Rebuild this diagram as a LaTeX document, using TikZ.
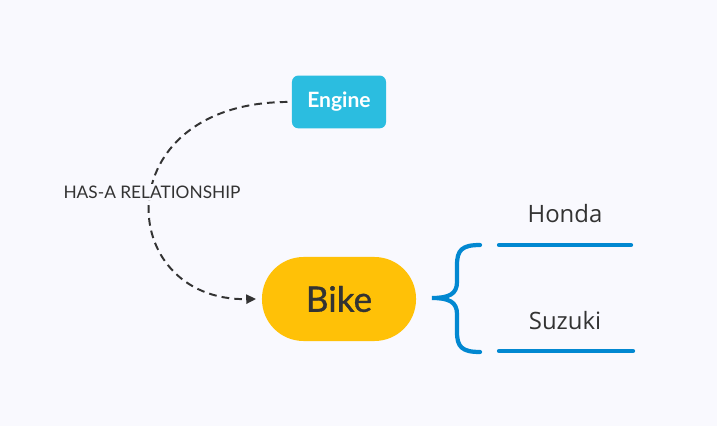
\documentclass[tikz,border=0pt]{standalone}
\usepackage{fontspec}
\setmainfont{Lato}
\newfontfamily\brandfont{Open Sans}
\newfontfamily\wholefont[FakeBold=0.9]{Lato}
\usetikzlibrary{positioning,arrows.meta}

\definecolor{paper}{RGB}{249,249,254}
\definecolor{ink}{RGB}{51,51,51}
\definecolor{enginecyan}{RGB}{43,189,224}
\definecolor{bikeamber}{RGB}{255,193,7}
\definecolor{braceblue}{RGB}{2,136,209}

\tikzset{
  part/.style={fill=enginecyan,text=white,rounded corners=4.5pt,minimum width=2.35cm,minimum height=1.32cm,font=\bfseries\fontsize{15}{18}\selectfont},
  whole/.style={fill=bikeamber,text=ink,rounded corners=1.04cm,minimum width=3.85cm,minimum height=2.1cm,font=\wholefont\fontsize{25}{30}\selectfont},
  brand/.style={text=ink,font=\brandfont\fontsize{17}{20}\selectfont},
  hasa/.style={ink,line width=1.4pt,dash pattern=on 5.5pt off 3.6pt,-{Triangle[length=7pt,width=6.5pt]}},
  branch/.style={braceblue,line width=3pt,line cap=round}
}

\begin{document}
\begin{tikzpicture}[x=0.025cm,y=-0.025cm,on grid]
   \useasboundingbox[fill=paper] (0,0) rectangle (717,426);
   \node[whole] (bike) at (339,299) {Bike};
   \node[part] (engine) [above=4.925cm of bike] {Engine};
   \node[brand] (honda) at (565,214) {Honda};
   \node[brand] (suzuki) [below=2.675cm of honda] {Suzuki};
   % under lines of the two brands
   \coordinate (hondaL) at (499,245);
   \coordinate (hondaR) at (631,245);
   \coordinate (suzukiL) at (499,351);
   \coordinate (suzukiR) at (633,351);
   \coordinate (tip) at (432,298);

   \draw[hasa] ([xshift=-3pt]engine.west) .. controls (105,103) and (114,301) .. ([xshift=-4pt]bike.west);
   \node[fill=paper,inner sep=1pt,text=ink,font=\fontsize{12.3}{14}\selectfont] (label) at (152,192) {HAS-A RELATIONSHIP};

   \draw[branch] (hondaL) -- (hondaR);
   \draw[branch] (suzukiL) -- (suzukiR);
   \draw[branch] (480,245) .. controls (462,245) and (457,250) .. (457,265) -- (457,282)
        .. controls (457,294) and (449,298) .. (tip)
        .. controls (449,298) and (457,302) .. (457,314) -- (457,332)
        .. controls (457,347) and (462,352) .. (480,352);
\end{tikzpicture}
\end{document}
